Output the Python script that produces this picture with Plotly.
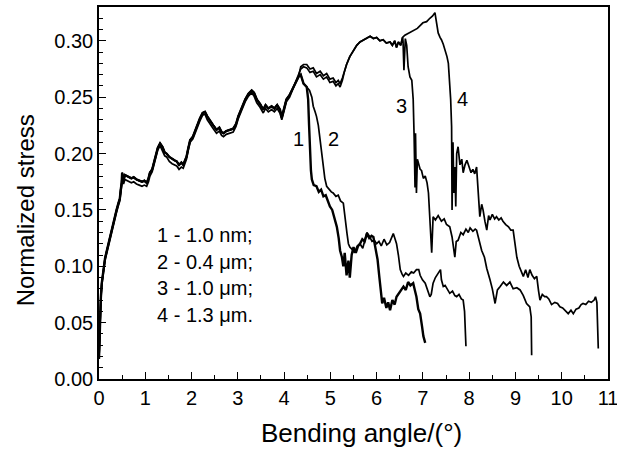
import plotly.graph_objects as go

# ---- shared initial part (all curves) ----
common_x = [0.00, 0.02, 0.04, 0.06, 0.09, 0.13, 0.17, 0.22, 0.27, 0.33, 0.38, 0.42, 0.45, 0.47, 0.49, 0.50,
            0.53, 0.56, 0.60, 0.65, 0.70, 0.75, 0.81, 0.87, 0.93, 0.98, 1.03, 1.07, 1.10, 1.15, 1.21, 1.27,
            1.32, 1.37, 1.42, 1.46, 1.52, 1.58, 1.63, 1.68, 1.73, 1.78, 1.82, 1.86, 1.89, 1.93, 1.97, 2.03,
            2.11, 2.18, 2.24, 2.29, 2.34, 2.40, 2.47, 2.54, 2.60, 2.65, 2.69, 2.75, 2.82, 2.90, 2.96, 3.01,
            3.08, 3.16, 3.23, 3.30, 3.35, 3.41, 3.48, 3.55, 3.60, 3.66, 3.73, 3.79, 3.85, 3.91, 3.95, 4.00,
            4.05, 4.12, 4.20, 4.26, 4.31]
common_y_a = [0.018, 0.055, 0.072, 0.085, 0.097, 0.107, 0.114, 0.123, 0.132, 0.142, 0.150, 0.156, 0.160, 0.168,
              0.174, 0.183, 0.176, 0.181, 0.180, 0.179, 0.178, 0.179, 0.177, 0.176, 0.175, 0.176, 0.174, 0.178,
              0.183, 0.186, 0.197, 0.205, 0.209, 0.206, 0.201, 0.200, 0.197, 0.195, 0.194, 0.193, 0.190, 0.192,
              0.190, 0.194, 0.197, 0.205, 0.212, 0.215, 0.224, 0.231, 0.236, 0.237, 0.233, 0.229, 0.225, 0.221,
              0.223, 0.219, 0.218, 0.220, 0.221, 0.222, 0.226, 0.233, 0.240, 0.248, 0.253, 0.256, 0.254, 0.248,
              0.244, 0.239, 0.243, 0.240, 0.242, 0.240, 0.243, 0.239, 0.232, 0.241, 0.248, 0.252, 0.259, 0.263,
              0.268]
common_y_b = [0.018, 0.052, 0.070, 0.083, 0.095, 0.105, 0.112, 0.121, 0.130, 0.140, 0.148, 0.154, 0.158, 0.165,
              0.171, 0.180, 0.173, 0.177, 0.176, 0.175, 0.174, 0.175, 0.173, 0.172, 0.171, 0.172, 0.171, 0.175,
              0.180, 0.184, 0.194, 0.203, 0.207, 0.203, 0.198, 0.197, 0.193, 0.191, 0.190, 0.189, 0.186, 0.188,
              0.187, 0.191, 0.195, 0.203, 0.210, 0.213, 0.222, 0.229, 0.234, 0.235, 0.230, 0.226, 0.222, 0.218,
              0.220, 0.216, 0.215, 0.217, 0.218, 0.219, 0.224, 0.231, 0.238, 0.246, 0.251, 0.254, 0.251, 0.245,
              0.241, 0.236, 0.240, 0.237, 0.239, 0.237, 0.240, 0.236, 0.230, 0.239, 0.246, 0.250, 0.258, 0.264,
              0.270]

# ---- curves 1 & 2 shared short part ----
x12 = [4.36, 4.42, 4.49]
y12 = [0.270, 0.262, 0.259]

# ---- curve 1 tail ----
x1 = [4.52, 4.54, 4.56, 4.58, 4.60, 4.64, 4.70, 4.75, 4.80, 4.85, 4.90, 4.95, 4.99, 5.04, 5.09, 5.14, 5.18,
      5.21, 5.25, 5.28, 5.31, 5.35, 5.39, 5.42, 5.46, 5.50, 5.55, 5.60, 5.64, 5.69, 5.74, 5.79, 5.84, 5.89,
      5.93, 5.98, 6.02, 6.06, 6.09, 6.12, 6.16, 6.21, 6.25, 6.29, 6.34, 6.39, 6.43, 6.48, 6.53, 6.58, 6.63,
      6.68, 6.73, 6.79, 6.83, 6.86, 6.90, 6.94, 6.98, 7.01, 7.05]
y1 = [0.248, 0.225, 0.203, 0.185, 0.177, 0.172, 0.171, 0.166, 0.168, 0.162, 0.163, 0.157, 0.153, 0.150, 0.142,
      0.135, 0.125, 0.114, 0.108, 0.100, 0.112, 0.092, 0.105, 0.090, 0.110, 0.117, 0.112, 0.118, 0.120, 0.124,
      0.122, 0.129, 0.125, 0.127, 0.126, 0.115, 0.106, 0.090, 0.079, 0.067, 0.072, 0.063, 0.068, 0.061, 0.070,
      0.066, 0.073, 0.076, 0.080, 0.082, 0.079, 0.086, 0.083, 0.085, 0.078, 0.073, 0.062, 0.058, 0.047, 0.038,
      0.032]

# ---- curve 2 tail ----
x2 = [4.55, 4.60, 4.63, 4.67, 4.70, 4.74, 4.78, 4.81, 4.85, 4.88, 4.92, 4.97, 5.02, 5.06, 5.12, 5.17, 5.22,
      5.28, 5.32, 5.36, 5.39, 5.42, 5.47, 5.52, 5.58, 5.64, 5.70, 5.75, 5.79, 5.84, 5.90, 5.95, 6.00, 6.05,
      6.10, 6.16, 6.22, 6.28, 6.33, 6.36, 6.40, 6.43, 6.47, 6.51, 6.55, 6.58, 6.63, 6.69, 6.75, 6.80, 6.86,
      6.91, 6.94, 6.99, 7.05, 7.10, 7.15, 7.18, 7.22, 7.27, 7.33, 7.38, 7.40, 7.44, 7.48, 7.53, 7.58, 7.64,
      7.69, 7.73, 7.78, 7.83, 7.87, 7.90, 7.93]
y2 = [0.256, 0.250, 0.242, 0.237, 0.233, 0.225, 0.212, 0.200, 0.188, 0.178, 0.171, 0.168, 0.166, 0.165, 0.162,
      0.163, 0.158, 0.156, 0.140, 0.129, 0.120, 0.117, 0.115, 0.112, 0.118, 0.120, 0.116, 0.124, 0.130, 0.127,
      0.122, 0.123, 0.120, 0.122, 0.118, 0.124, 0.119, 0.121, 0.126, 0.129, 0.124, 0.120, 0.110, 0.097, 0.093,
      0.091, 0.094, 0.092, 0.095, 0.094, 0.097, 0.097, 0.092, 0.088, 0.085, 0.078, 0.073, 0.075, 0.085, 0.090,
      0.094, 0.097, 0.088, 0.082, 0.083, 0.080, 0.076, 0.078, 0.074, 0.073, 0.075, 0.071, 0.070, 0.060, 0.029]

# ---- curves 3 & 4 middle part ----
x34 = [4.36, 4.42, 4.49, 4.56, 4.63, 4.70, 4.78, 4.85, 4.92, 4.99, 5.06, 5.12, 5.17, 5.21, 5.26, 5.30, 5.35,
       5.42, 5.50, 5.57, 5.64, 5.72, 5.79, 5.86, 5.93, 6.00, 6.07, 6.14, 6.21, 6.29, 6.34, 6.39, 6.43, 6.47,
       6.52, 6.56]
y4_mid = [0.275, 0.277, 0.276, 0.272, 0.273, 0.268, 0.270, 0.266, 0.268, 0.263, 0.264, 0.260, 0.262, 0.259,
          0.265, 0.272, 0.279, 0.286, 0.292, 0.296, 0.299, 0.301, 0.303, 0.304, 0.302, 0.303, 0.300, 0.301,
          0.298, 0.299, 0.296, 0.300, 0.294, 0.299, 0.296, 0.303]
y3_mid = [0.277, 0.279, 0.279, 0.275, 0.276, 0.271, 0.273, 0.269, 0.271, 0.266, 0.267, 0.263, 0.265, 0.262,
          0.267, 0.273, 0.279, 0.286, 0.292, 0.296, 0.299, 0.301, 0.303, 0.304, 0.302, 0.303, 0.300, 0.301,
          0.298, 0.299, 0.296, 0.300, 0.294, 0.299, 0.296, 0.303]

# ---- curve 3 tail ----
x3 = [6.57, 6.59, 6.62, 6.65, 6.68, 6.72, 6.76, 6.79, 6.81, 6.83, 6.84, 6.86, 6.88, 6.90, 6.94, 6.97, 7.01,
      7.05, 7.09, 7.12, 7.16, 7.19, 7.22, 7.27, 7.33, 7.40, 7.46, 7.51, 7.58, 7.63, 7.69, 7.72, 7.76, 7.82,
      7.87, 7.93, 7.98, 8.02, 8.08, 8.13, 8.16, 8.22, 8.27, 8.33, 8.38, 8.45, 8.50, 8.56, 8.61, 8.67, 8.74,
      8.81, 8.88, 8.95, 9.03, 9.10, 9.17, 9.24, 9.31, 9.34, 9.35]
y3 = [0.300, 0.274, 0.302, 0.296, 0.277, 0.268, 0.265, 0.248, 0.215, 0.170, 0.218, 0.165, 0.195, 0.191, 0.186,
      0.185, 0.178, 0.180, 0.174, 0.165, 0.135, 0.112, 0.144, 0.141, 0.145, 0.140, 0.142, 0.137, 0.135, 0.126,
      0.108, 0.122, 0.123, 0.130, 0.128, 0.133, 0.130, 0.134, 0.131, 0.133, 0.132, 0.122, 0.114, 0.108, 0.098,
      0.088, 0.080, 0.067, 0.079, 0.082, 0.086, 0.083, 0.086, 0.080, 0.081, 0.079, 0.074, 0.067, 0.064, 0.055,
      0.021]

# ---- curve 4 tail ----
x4 = [6.61, 6.70, 6.79, 6.88, 7.00, 7.08, 7.15, 7.21, 7.26, 7.30, 7.33, 7.37, 7.40, 7.44, 7.48, 7.52, 7.55,
      7.58, 7.60, 7.62, 7.63, 7.65, 7.67, 7.69, 7.71, 7.73, 7.76, 7.80, 7.84, 7.87, 7.91, 7.95, 8.00, 8.04,
      8.08, 8.12, 8.16, 8.20, 8.23, 8.27, 8.30, 8.34, 8.38, 8.42, 8.45, 8.50, 8.55, 8.59, 8.64, 8.69, 8.73,
      8.79, 8.85, 8.90, 8.95, 8.99, 9.03, 9.08, 9.13, 9.17, 9.22, 9.27, 9.31, 9.36, 9.41, 9.46, 9.50, 9.53,
      9.58, 9.63, 9.67, 9.72, 9.78, 9.85, 9.91, 9.96, 10.02, 10.08, 10.14, 10.20, 10.25, 10.31, 10.37, 10.42,
      10.46, 10.52, 10.58, 10.64, 10.70, 10.73, 10.76, 10.79]
y4 = [0.305, 0.307, 0.309, 0.311, 0.316, 0.317, 0.320, 0.322, 0.325, 0.314, 0.307, 0.303, 0.301, 0.297, 0.292,
      0.286, 0.280, 0.265, 0.248, 0.224, 0.150, 0.210, 0.165, 0.188, 0.153, 0.200, 0.206, 0.190, 0.195, 0.183,
      0.190, 0.194, 0.188, 0.183, 0.186, 0.182, 0.188, 0.160, 0.144, 0.155, 0.150, 0.140, 0.132, 0.145, 0.141,
      0.146, 0.142, 0.144, 0.141, 0.143, 0.140, 0.137, 0.135, 0.132, 0.132, 0.120, 0.108, 0.100, 0.094, 0.091,
      0.097, 0.090, 0.097, 0.092, 0.089, 0.091, 0.078, 0.070, 0.075, 0.073, 0.073, 0.071, 0.066, 0.068, 0.067,
      0.064, 0.063, 0.060, 0.058, 0.061, 0.058, 0.062, 0.063, 0.066, 0.067, 0.066, 0.069, 0.068, 0.070, 0.073,
      0.068, 0.027]

curve_labels = ["1", "2", "3", "4"]
label_x = [4.31, 5.06, 6.54, 7.85]
label_y = [0.213, 0.213, 0.242, 0.248]
legend_lines = ["1 - 1.0 nm;", "2 - 0.4 \u03bcm;", "3 - 1.0 \u03bcm;", "4 - 1.3 \u03bcm."]
legend_x = 1.21
legend_y = [0.128, 0.104, 0.081, 0.057]

x_ticks = list(range(0, 12))
y_ticks = [0.00, 0.05, 0.10, 0.15, 0.20, 0.25, 0.30]

FONT = "Liberation Sans, Arial, sans-serif"

curves = [
    (common_x + x12 + x1, common_y_a + y12 + y1, 2.4),
    (common_x + x12 + x2, common_y_a + y12 + y2, 1.7),
    (common_x + x34 + x3, common_y_a + y3_mid + y3, 1.7),
    (common_x + x34 + x4, common_y_b + y4_mid + y4, 1.7),
]

fig = go.Figure()
for cx, cy, w in curves:
    fig.add_trace(go.Scatter(x=cx, y=cy, mode="lines",
                             line=dict(color="black", width=w), showlegend=False))

for t, lx, ly in zip(curve_labels, label_x, label_y):
    fig.add_annotation(x=lx, y=ly, text=t, showarrow=False,
                       font=dict(family=FONT, size=20, color="black"))

for t, ly in zip(legend_lines, legend_y):
    fig.add_annotation(x=legend_x, y=ly, text=t, showarrow=False, xanchor="left", yanchor="middle",
                       font=dict(family=FONT, size=20, color="black"))

fig.add_annotation(xref="paper", yref="paper", x=0.515, y=-0.145, xanchor="center", yanchor="middle",
                   text="Bending angle/(\u00b0)", showarrow=False,
                   font=dict(family=FONT, size=26, color="black"))
fig.add_annotation(xref="paper", yref="paper", x=-0.145, y=0.454, xanchor="center", yanchor="middle",
                   text="Normalized stress", showarrow=False, textangle=-90,
                   font=dict(family=FONT, size=24, color="black"))

fig.update_xaxes(range=[0, 11], tickvals=x_ticks, ticks="inside", ticklen=7, tickwidth=1.2,
                 tickcolor="black", showline=True, linecolor="black", linewidth=1.5, mirror=True,
                 showgrid=False, zeroline=False, ticklabeloverflow="allow", automargin=False,
                 tickfont=dict(family=FONT, size=20, color="black"),
                 minor=dict(dtick=0.5, ticks="inside", ticklen=4, tickcolor="black", tickwidth=1.2))
fig.update_yaxes(range=[0, 0.33], tickvals=y_ticks, tickformat=".2f", ticks="inside", ticklen=7,
                 tickwidth=1.2, tickcolor="black", showline=True, linecolor="black", linewidth=1.5,
                 mirror=True, showgrid=False, zeroline=False, automargin=False,
                 tickfont=dict(family=FONT, size=20, color="black"),
                 minor=dict(dtick=0.01, ticks="inside", ticklen=4, tickcolor="black", tickwidth=1.2))

fig.update_layout(width=617, height=457, margin=dict(l=99, r=9, t=7, b=78),
                  plot_bgcolor="white", paper_bgcolor="white")

fig.write_html("out.html")
